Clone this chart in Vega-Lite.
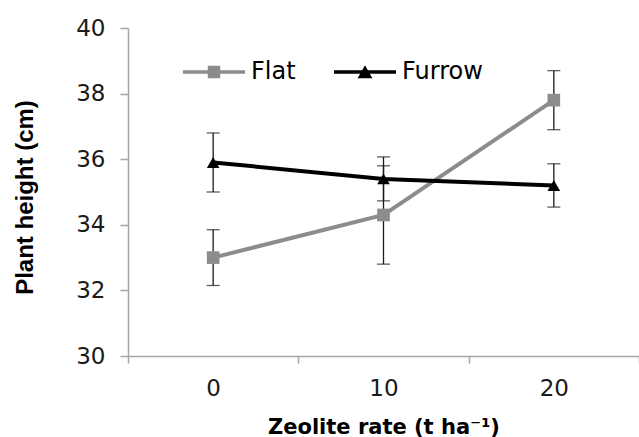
{
  "$schema": "https://vega.github.io/schema/vega-lite/v6.json",
  "width": 511,
  "height": 328,
  "autosize": {"type": "none"},
  "padding": {"left": 128, "top": 28, "right": 0, "bottom": 81},
  "background": "white",
  "config": {"view": {"stroke": null}, "font": "DejaVu Sans"},
  "data": {
    "values": [
      {"series": "Flat", "rate": "0", "mean": 33.0, "err": 0.85},
      {"series": "Flat", "rate": "10", "mean": 34.3, "err": 1.5},
      {"series": "Flat", "rate": "20", "mean": 37.8, "err": 0.9},
      {"series": "Furrow", "rate": "0", "mean": 35.9, "err": 0.9},
      {"series": "Furrow", "rate": "10", "mean": 35.4, "err": 0.67},
      {"series": "Furrow", "rate": "20", "mean": 35.2, "err": 0.66}
    ]
  },
  "encoding": {
    "x": {
      "field": "rate",
      "type": "nominal",
      "sort": ["0", "10", "20"],
      "scale": {"paddingInner": 0, "paddingOuter": 0},
      "axis": {
        "title": "Zeolite rate (t ha⁻¹)",
        "labelAngle": 0,
        "tickBand": "extent",
        "domainColor": "#a6a6a6",
        "domainWidth": 1.5,
        "tickColor": "#a6a6a6",
        "tickWidth": 1.5,
        "tickSize": 7,
        "labelFont": "DejaVu Sans",
        "labelFontSize": 23,
        "labelColor": "#1a1a1a",
        "labelPadding": 14,
        "titleFont": "DejaVu Sans",
        "titleFontSize": 21,
        "titleFontWeight": "bold",
        "titleColor": "#000000",
        "titleBaseline": "alphabetic",
        "titleY": 77,
        "grid": false
      }
    },
    "y": {
      "field": "mean",
      "type": "quantitative",
      "scale": {"domain": [30, 40], "nice": false, "zero": false},
      "axis": {
        "title": "Plant height (cm)",
        "values": [30, 32, 34, 36, 38, 40],
        "labelOverlap": false,
        "domainColor": "#a6a6a6",
        "domainWidth": 1.5,
        "tickColor": "#a6a6a6",
        "tickWidth": 1.5,
        "tickSize": 8,
        "labelFont": "DejaVu Sans",
        "labelFontSize": 23,
        "labelColor": "#1a1a1a",
        "labelPadding": 15,
        "titleFont": "Liberation Sans",
        "titleFontSize": 24,
        "titleFontWeight": "bold",
        "titleColor": "#000000",
        "titleBaseline": "alphabetic",
        "titleAngle": 270,
        "titleAlign": "center",
        "titleX": -96,
        "titleY": 169,
        "grid": false
      }
    }
  },
  "layer": [
    {
      "mark": {"type": "line", "strokeWidth": 4},
      "encoding": {
        "color": {
          "field": "series",
          "type": "nominal",
          "scale": {"domain": ["Flat", "Furrow"], "range": ["#8c8c8c", "#000000"]},
          "legend": null
        }
      }
    },
    {
      "mark": {"type": "errorbar", "ticks": true, "thickness": 1.3, "size": 13, "color": "#1a1a1a"},
      "encoding": {
        "yError": {"field": "err"},
        "detail": {"field": "series", "type": "nominal"}
      }
    },
    {
      "mark": {"type": "point", "filled": true, "opacity": 1, "size": 160},
      "encoding": {
        "color": {
          "field": "series",
          "type": "nominal",
          "scale": {"domain": ["Flat", "Furrow"], "range": ["#8c8c8c", "#000000"]},
          "legend": null
        },
        "shape": {
          "field": "series",
          "type": "nominal",
          "scale": {"domain": ["Flat", "Furrow"], "range": ["square", "triangle-up"]},
          "legend": null
        }
      }
    },
    {
      "mark": {"type": "point", "filled": true, "opacity": 0},
      "encoding": {
        "color": {
          "field": "series",
          "type": "nominal",
          "scale": {"domain": ["Flat", "Furrow"], "range": ["#8c8c8c", "#000000"]},
          "legend": {
            "orient": "none",
            "legendX": 55,
            "legendY": 13,
            "direction": "horizontal",
            "title": null,
            "symbolSize": 3844,
            "symbolOpacity": 1,
            "symbolStrokeWidth": 0,
            "labelFont": "DejaVu Sans",
            "labelFontSize": 24,
            "labelColor": "#000000",
            "labelOffset": 6,
            "columnPadding": 38
          }
        },
        "shape": {
          "field": "series",
          "type": "nominal",
          "scale": {
            "domain": ["Flat", "Furrow"],
            "range": [
              "M-1,-0.06H1V0.06H-1Z M-0.2,-0.2H0.2V0.2H-0.2Z",
              "M-1,-0.06H1V0.06H-1Z M0,-0.22L0.24,0.2L-0.24,0.2Z"
            ]
          },
          "legend": {
            "orient": "none",
            "legendX": 55,
            "legendY": 13,
            "direction": "horizontal",
            "title": null,
            "symbolSize": 3844,
            "symbolOpacity": 1,
            "symbolStrokeWidth": 0,
            "labelFont": "DejaVu Sans",
            "labelFontSize": 24,
            "labelColor": "#000000",
            "labelOffset": 6,
            "columnPadding": 38
          }
        }
      }
    }
  ],
  "resolve": {"scale": {"shape": "independent", "color": "independent"}}
}
